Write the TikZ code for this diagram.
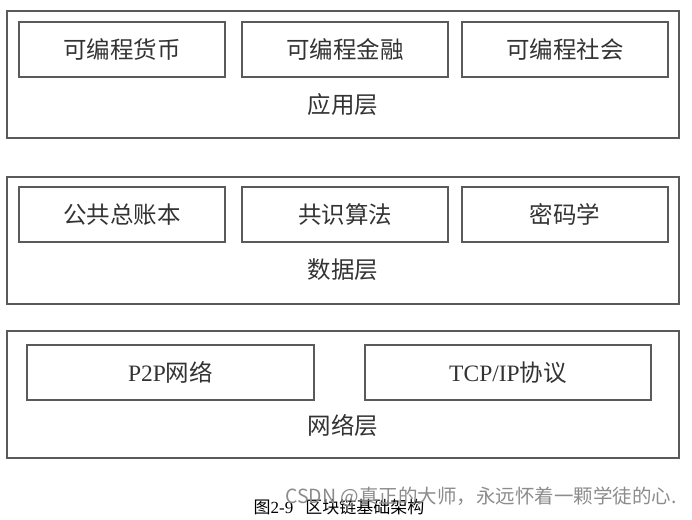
\documentclass[tikz,border=0pt]{standalone}
\usepackage{fontspec}
\setmainfont{Liberation Serif}
\newfontfamily\cjk{Noto Sans CJK SC}
\usetikzlibrary{positioning}
\definecolor{linegray}{HTML}{5A5A5A}
\definecolor{textgray}{HTML}{333333}
\tikzset{
	layer/.style={
		rectangle,
		draw=linegray,
		line width=1.2pt,
		minimum width=672pt,
		minimum height=127pt,
		inner sep=0pt,
	},
	part/.style={
		rectangle,
		draw=linegray,
		line width=1.1pt,
		minimum height=55pt,
		inner sep=0pt,
		text=textgray,
		font=\fontsize{23.5}{26}\selectfont,
		align=center,
	},
	layername/.style={
		text=textgray,
		font=\cjk\fontsize{23.5}{26}\selectfont,
	},
}

\begin{document}
\begin{tikzpicture}[x=1pt,y=-1pt]
    \useasboundingbox (0,0) rectangle (692,519);
    % application layer
    \node[layer] (app) at (343,74.5) {};
    \node[part, minimum width=206pt] (app-1) at (122,49.5) {\cjk 可编程货币};
    \node[part, minimum width=206pt] (app-2) at (345,49.5) {\cjk 可编程金融};
    \node[part, minimum width=206pt] (app-3) at (565,49.5) {\cjk 可编程社会};
    \node[layername] (app-name) at (343,105) {应用层};
    % data layer
    \node[layer] (data) at (343,240.5) {};
    \node[part, minimum width=206pt] (data-1) at (122,214.5) {\cjk 公共总账本};
    \node[part, minimum width=206pt] (data-2) at (345,214.5) {\cjk 共识算法};
    \node[part, minimum width=206pt] (data-3) at (565,214.5) {\cjk 密码学};
    \node[layername] (data-name) at (343,270) {数据层};
    % network layer
    \node[layer] (net) at (343,394.5) {};
    \node[part, minimum width=287pt] (net-1) at (170.5,372.5) {P2P{\cjk 网络}};
    \node[part, minimum width=286pt] (net-2) at (508,372.5) {TCP/IP{\cjk 协议}};
    \node[layername] (net-name) at (343,426) {网络层};
    % caption
    \node[text=black, font=\fontsize{17}{19}\selectfont] (caption) at (339,507) {{\cjk 图}2-9\hspace{12pt}{\cjk 区块链基础架构}};
    \node[text=black!45, font=\cjk\fontsize{19.5}{21}\selectfont] (mark) at (481,497) {CSDN @真正的大师，永远怀着一颗学徒的心.};
\end{tikzpicture}
\end{document}
